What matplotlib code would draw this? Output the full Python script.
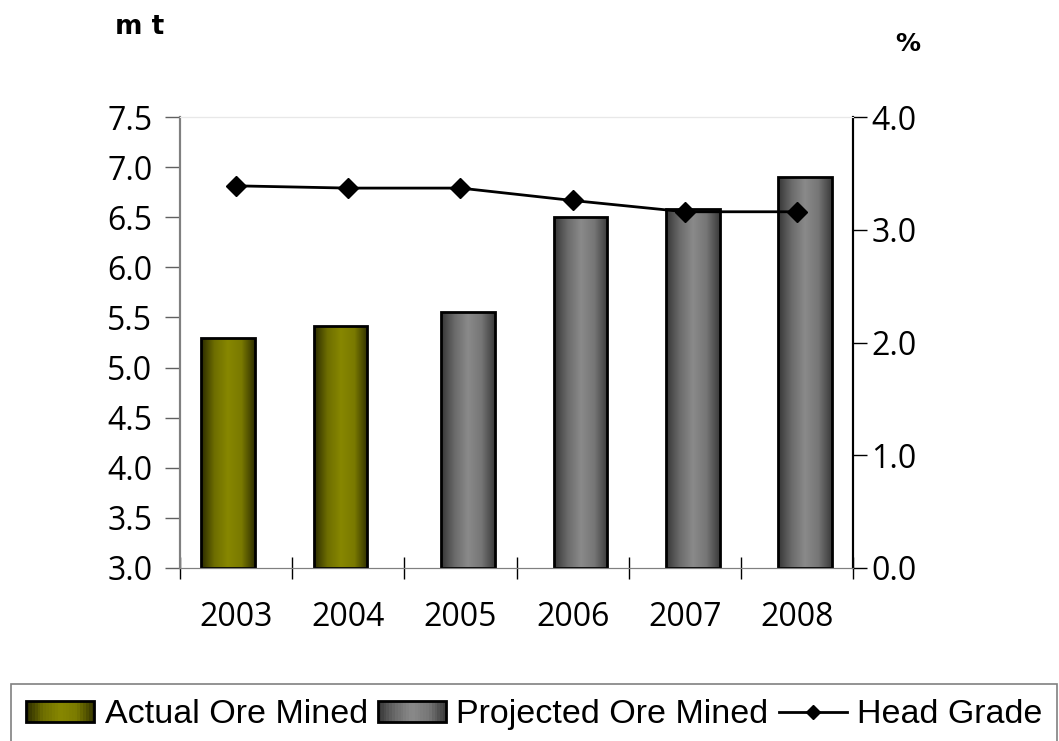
import numpy as np
import matplotlib.pyplot as plt
from matplotlib.patches import Rectangle
from matplotlib.lines import Line2D
from matplotlib.legend_handler import HandlerBase
from matplotlib.colors import LinearSegmentedColormap

years = ['2003', '2004', '2005', '2006', '2007', '2008']
ore = [5.30, 5.41, 5.55, 6.50, 6.58, 6.90]
actual = [True, True, False, False, False, False]
head_grade = [3.39, 3.37, 3.37, 3.26, 3.16, 3.16]

olive_cm = LinearSegmentedColormap.from_list(
    'olive', ['#2a2a00', '#6e6e00', '#878700', '#7a7a00', '#2f2f00'])
gray_cm = LinearSegmentedColormap.from_list(
    'gray', ['#353535', '#6a6a6a', '#8a8a8a', '#767676', '#3a3a3a'])


class GradientHandler(HandlerBase):
    # legend key drawn as thin strips so it shows the same shading as the bars
    def __init__(self, cmap, n=24):
        super().__init__()
        self.cmap = cmap
        self.n = n

    def create_artists(self, legend, orig_handle, xdescent, ydescent,
                       width, height, fontsize, trans):
        arts = []
        sw = width / self.n
        for k in range(self.n):
            r = Rectangle((-xdescent + k*sw, -ydescent), sw*1.05, height,
                          facecolor=self.cmap((k + 0.5)/self.n),
                          edgecolor='none', transform=trans)
            arts.append(r)
        arts.append(Rectangle((-xdescent, -ydescent), width, height,
                              facecolor='none', edgecolor='black',
                              linewidth=2, transform=trans))
        return arts


fig = plt.figure(figsize=(10.59, 7.41), dpi=100)
ax = fig.add_axes([0.170, 0.2335, 0.6355, 0.6085])
ax2 = ax.twinx()

x = np.arange(len(years))
w = 0.48
off = 0.07
grad = np.linspace(0, 1, 256).reshape(1, -1)
for i, v in enumerate(ore):
    cm = olive_cm if actual[i] else gray_cm
    xc = x[i] - off if actual[i] else x[i] + off
    bar = ax.bar(xc, v - 3.0, bottom=3.0, width=w, color='none',
                 edgecolor='black', linewidth=2, zorder=3)[0]
    im = ax.imshow(grad, cmap=cm, aspect='auto',
                   extent=[xc - w/2, xc + w/2, 3.0, v], zorder=2)
    im.set_clip_path(bar)

tick_font = 'Open Sans'
ax.set_xlim(-0.5, len(years) - 0.5)
ax.set_ylim(3.0, 7.5)
ax.set_yticks(np.arange(3.0, 7.51, 0.5))
ax.set_yticklabels(['%.1f' % t for t in np.arange(3.0, 7.51, 0.5)],
                   family=tick_font)
ax.set_xticks(np.arange(-0.5, len(years), 1.0))
ax.set_xticklabels([])
ax.set_xticks(x, minor=True)
ax.set_xticklabels(years, minor=True, family=tick_font)
ax.tick_params(axis='x', which='major', direction='inout', length=16,
               width=1, color='black')
ax.tick_params(axis='x', which='minor', length=0, pad=24, labelsize=23)
ax.tick_params(axis='y', direction='out', length=11, width=1,
               color='#606060', labelsize=23, pad=9)

ax2.plot(x, head_grade, color='black', lw=2, marker='D', markersize=10,
         zorder=5)
ax2.set_ylim(0, 4.0)
ax2.set_yticks(np.arange(0, 4.01, 1.0))
ax2.set_yticklabels(['%.1f' % t for t in np.arange(0, 4.01, 1.0)],
                    family=tick_font)
ax2.tick_params(axis='y', direction='out', length=10, width=1,
                color='black', labelsize=23, pad=3)

for a in (ax, ax2):
    a.spines['top'].set_color('#e8e8e8')
    a.spines['left'].set_color('#808080')
    a.spines['bottom'].set_color('#808080')
    a.spines['right'].set_color('black')
    a.spines['left'].set_linewidth(1.5)
    a.spines['right'].set_linewidth(1.5)

fig.text(115/1059, 1 - 27/741, 'm t', fontsize=19, fontweight='bold',
         va='center', ha='left')
fig.text(895/1059, 1 - 44/741, '%', fontsize=18, fontweight='bold',
         va='center', ha='left')

h_actual = Rectangle((0, 0), 1, 1)
h_proj = Rectangle((0, 0), 1, 1)
h_grade = Line2D([], [], color='black', lw=2, marker='D', markersize=7)
handles = [h_actual, h_proj, h_grade]
labels = ['Actual Ore Mined', 'Projected Ore Mined', 'Head Grade']
leg = fig.legend(handles, labels, loc='upper left',
                 bbox_to_anchor=(11/1059, 1 - 684/741), ncol=3,
                 frameon=True, fancybox=False, edgecolor='#606060',
                 prop={'family': 'Liberation Sans', 'size': 24.5},
                 handlelength=2.0, handleheight=0.55, handletextpad=0.3,
                 columnspacing=0.3, borderpad=0.45, borderaxespad=0,
                 handler_map={h_actual: GradientHandler(olive_cm),
                              h_proj: GradientHandler(gray_cm)})
leg.get_frame().set_linewidth(1.2)

fig.savefig('out.png', dpi=100)
